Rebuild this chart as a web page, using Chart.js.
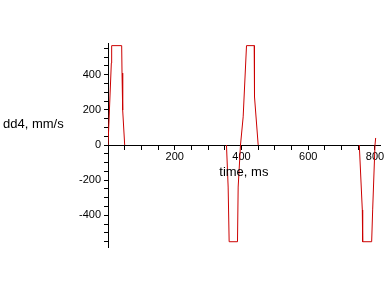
<!DOCTYPE html>
<html>
<head>
<meta charset="utf-8">
<script src="https://cdn.jsdelivr.net/npm/chart.js@4"></script>
<style>
html, body { margin: 0; padding: 0; background: #fff; }
</style>
</head>
<body>
<canvas id="myChart" width="388" height="288"></canvas>
<script>
// values
var timeMs = [0, 10, 11, 41, 42, 44, 50, 355, 360, 363, 388, 390, 397, 405, 415, 438, 439, 450, 753, 762, 763, 790, 793, 800, 802];
var speed  = [0, 466, 565, 565, 409, 199, 0, 0, -239, -550, -550, -239, 0, 160, 565, 565, 274, 0, 0, -369, -550, -550, -369, 0, 40];
var xLabels = [200, 400, 600, 800];
var yLabels = [-400, -200, 0, 200, 400];
var yTitle = 'dd4, mm/s';
var xTitle = 'time, ms';

var points = [];
for (var i = 0; i < timeMs.length; i++) {
    points.push({ x: timeMs[i], y: speed[i] });
}

// tick marks every 50 units between the scale ends
function minorTicks(scale) {
    var t = [];
    for (var v = Math.ceil(scale.min / 50) * 50; v <= scale.max; v += 50) {
        t.push({ value: v });
    }
    scale.ticks = t;
}

// draws the two axis names next to the axes
var axisTitles = {
    id: 'axisTitles',
    afterDraw: function(chart) {
        var ctx = chart.ctx;
        var xs = chart.scales.x, ys = chart.scales.y;
        ctx.save();
        ctx.font = '13px "Liberation Sans", Arial, sans-serif';
        ctx.fillStyle = '#000';
        ctx.textBaseline = 'middle';
        ctx.textAlign = 'left';
        ctx.fillText(yTitle, 3, ys.getPixelForValue(119));
        ctx.textAlign = 'center';
        ctx.fillText(xTitle, xs.getPixelForValue(407), ys.getPixelForValue(0) + 27);
        ctx.restore();
    }
};

var tickFont = { family: '"Liberation Sans", Arial, sans-serif', size: 11 };
var red = 'rgb(204,0,0)';

var chartInstance = new Chart(document.getElementById('myChart').getContext('2d'), {
    type: 'line',
    data: {
        datasets: [{
            data: points,
            borderColor: red,
            borderWidth: 1,
            pointRadius: 0,
            tension: 0,
            fill: false,
            // the flat parts lie on the time axis, which stays black
            segment: {
                borderColor: function(c) {
                    return (c.p0.parsed.y === 0 && c.p1.parsed.y === 0) ? 'rgba(0,0,0,0)' : red;
                }
            }
        }]
    },
    options: {
        responsive: false,
        animation: false,
        layout: { padding: { left: 78, right: 8, top: 43, bottom: 41 } },
        plugins: { legend: { display: false }, tooltip: { enabled: false } },
        scales: {
            x: {
                type: 'linear',
                position: { y: 0 },
                min: 0,
                max: 815,
                afterBuildTicks: minorTicks,
                ticks: {
                    autoSkip: false,
                    maxRotation: 0,
                    padding: 1,
                    color: '#000',
                    font: tickFont,
                    callback: function(v) { return xLabels.indexOf(v) >= 0 ? String(v) : ''; }
                },
                grid: { drawOnChartArea: false, tickLength: 4, color: '#000' },
                border: { color: '#000', width: 1 }
            },
            y: {
                type: 'linear',
                position: 'left',
                min: -580,
                max: 580,
                afterBuildTicks: minorTicks,
                afterFit: function(scale) { scale.width = 30; },
                ticks: {
                    autoSkip: false,
                    padding: 3,
                    color: '#000',
                    font: tickFont,
                    callback: function(v) { return yLabels.indexOf(v) >= 0 ? String(v) : ''; }
                },
                grid: { drawOnChartArea: false, tickLength: 4, color: '#000' },
                border: { color: '#000', width: 1 }
            }
        }
    },
    plugins: [axisTitles]
});
</script>
</body>
</html>
